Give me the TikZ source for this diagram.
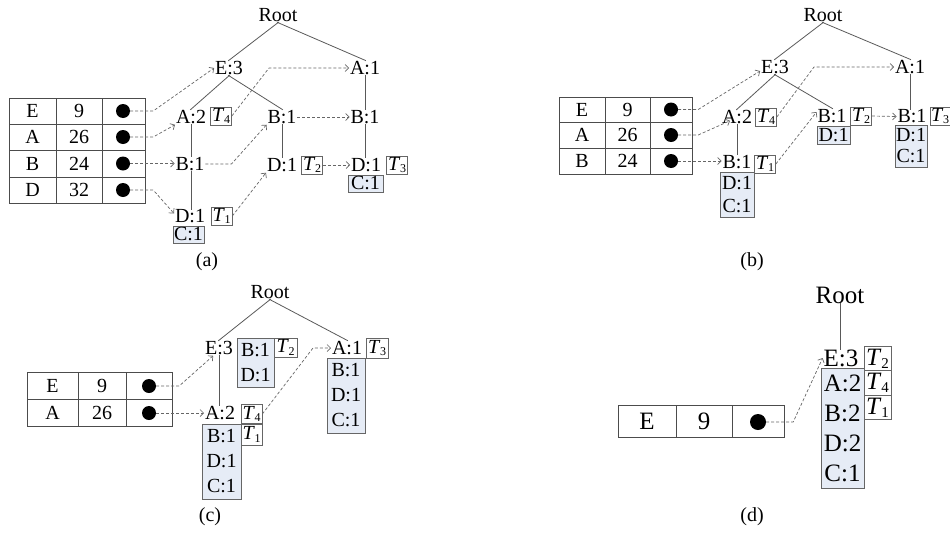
\documentclass[tikz,border=0pt]{standalone}
\usepackage{fontspec}
\setmainfont{Liberation Serif}
\usetikzlibrary{arrows.meta,calc}
\definecolor{boxfill}{HTML}{E6ECF6}
\newcommand{\Tsubs}[2]{\textit{T}\kern-0.3pt\raisebox{-0.12em}{\fontsize{#2}{#2}\selectfont #1}}
\begin{document}
\begin{tikzpicture}[x=1pt,y=-1pt,font=\fontsize{20}{24}\selectfont,
  lab/.style={inner sep=1pt, outer sep=0pt},
  labd/.style={inner sep=1pt, outer sep=0pt, font=\fontsize{25}{30}\selectfont},
  tb/.style={draw=black!60, line width=0.7pt, inner sep=0.5pt, minimum width=21pt, minimum height=18pt, fill=white},
  tbd/.style={tb, minimum width=27pt, minimum height=24.5pt, font=\fontsize{25}{30}\selectfont},
  fb/.style={draw=black!60, line width=0.7pt, fill=boxfill, inner sep=0pt, align=center},
  edge/.style={draw=black!65, line width=0.8pt, shorten <=-1pt, shorten >=-1pt},
  darr/.style={draw=black!60, line width=0.7pt, dash pattern=on 3pt off 2pt, -{Straight Barb[length=3.5pt,width=7pt]}},
  dot/.style={circle, fill=black, inner sep=0pt, minimum size=14pt},
  tline/.style={draw=black!70, line width=0.8pt}]
\useasboundingbox (0,0) rectangle (950,533);

% ================= (a) =================
\draw[tline] (9,98) rectangle (145,203);
\draw[tline] (56,98) -- (56,203) (102,98) -- (102,203)
  (9,124) -- (145,124) (9,150) -- (145,150) (9,177) -- (145,177);
\node[lab] (ak1) at (32.5,111) {E};
\node[lab] (ak2) at (32.5,137) {A};
\node[lab] (ak3) at (32.5,163.5) {B};
\node[lab] (ak4) at (32.5,190) {D};
\node[lab] (av1) at (79,111) {9};
\node[lab] (av2) at (79,137) {26};
\node[lab] (av3) at (79,163.5) {24};
\node[lab] (av4) at (79,190) {32};
\node[dot] (aE) at (123,111) {};
\node[dot] (aA) at (123,137) {};
\node[dot] (aB) at (123,163.5) {};
\node[dot] (aD) at (123,190) {};

\node[lab] (aRoot) at (278,15) {Root};
\node[lab] (aE3) at (229,68) {E:3};
\node[lab] (aA1) at (365,68) {A:1};
\node[lab] (aA2) at (191,117) {A:2};
\node[tb] (aT4) at (221,116) {\Tsubs{4}{12}};
\node[lab] (aB1m) at (282,117) {B:1};
\node[lab] (aB1r) at (365,117) {B:1};
\node[lab] (aB1l) at (190,164) {B:1};
\node[lab] (aD1m) at (282,165) {D:1};
\node[tb] (aT2) at (312,165) {\Tsubs{2}{12}};
\node[lab] (aD1r) at (366,165) {D:1};
\node[tb] (aT3) at (397,165) {\Tsubs{3}{12}};
\node[fb, minimum width=35pt, minimum height=17pt] (aC1r) at (365.5,183.5) {C:1};
\node[lab] (aD1l) at (190,216.5) {D:1};
\node[tb] (aT1) at (221.5,216) {\Tsubs{1}{12}};
\node[fb, minimum width=31pt, minimum height=17pt] (aC1l) at (188.5,234.5) {C:1};
\node[lab] (acap) at (207,262) {(a)};

\draw[edge] (aRoot.south) -- (aE3.north);
\draw[edge] (aRoot.south) -- (aA1.north);
\draw[edge] (aE3.south) -- (aA2.north);
\draw[edge] (aE3.south) -- (aB1m.north);
\draw[edge] (aA2.south) -- (aA2.south |- aB1l.north);
\draw[edge] (aA2.south |- aB1l.south) -- (aA2.south |- aD1l.north);
\draw[edge] (aB1m.south) -- (aD1m.north);
\draw[edge] (aA1.south) -- (aA1.south |- aB1r.north);
\draw[edge] (aB1r.south) -- (aB1r.south |- aD1r.north);

\draw[darr] (aE.east) -- ++(23,0) -- (aE3.west);
\draw[darr] (aA.east) -- ++(23,0) -- (aA2.south west);
\draw[darr] (aB.east) -- (aB.east -| aB1l.west);
\draw[darr] (aD.east) -- ++(23,0) -- ([yshift=3pt]aD1l.west);
\draw[darr] (aT4.east) -- ($(aA1.west)+(-80,0)$) -- (aA1.west);
\draw[darr] (aB1l.east) -- ++(26,0) -- (aB1m.south west);
\draw[darr] (aB1m.east) -- (aB1r.west);
\draw[darr] (aT1.east) -- (aD1m.south west);
\draw[darr] (aT2.east) -- (aD1r.west);

% ================= (b) =================
\draw[tline] (559,97) rectangle (692,174);
\draw[tline] (605,97) -- (605,174) (650,97) -- (650,174)
  (559,122) -- (692,122) (559,148) -- (692,148);
\node[lab] (bk1) at (582,109.5) {E};
\node[lab] (bk2) at (582,135) {A};
\node[lab] (bk3) at (582,161) {B};
\node[lab] (bv1) at (627.5,109.5) {9};
\node[lab] (bv2) at (627.5,135) {26};
\node[lab] (bv3) at (627.5,161) {24};
\node[dot] (bE) at (671,109.5) {};
\node[dot] (bA) at (671,135) {};
\node[dot] (bB) at (671,161) {};

\node[lab] (bRoot) at (823,15) {Root};
\node[lab] (bE3) at (775,67) {E:3};
\node[lab] (bA1) at (910,67) {A:1};
\node[lab] (bA2) at (737,117) {A:2};
\node[tb] (bT4) at (766,117) {\Tsubs{4}{12}};
\node[lab] (bB1l) at (737,162) {B:1};
\node[tb] (bT1) at (765,164) {\Tsubs{1}{12}};
\node[fb, minimum width=34pt, minimum height=45pt, font=\fontsize{20}{22.5}\selectfont] (bDCl) at (737,194.5) {D:1\\C:1};
\node[lab] (bB1m) at (832,116) {B:1};
\node[tb] (bT2) at (861,116) {\Tsubs{2}{12}};
\node[fb, minimum width=33pt, minimum height=18pt] (bDm) at (833.5,135.5) {D:1};
\node[lab] (bB1r) at (912,116.5) {B:1};
\node[tb, minimum width=20pt] (bT3) at (940,116) {\Tsubs{3}{12}};
\node[fb, minimum width=32pt, minimum height=42pt, font=\fontsize{20}{21}\selectfont] (bDCr) at (911,146) {D:1\\C:1};
\node[lab] (bcap) at (752,262) {(b)};

\draw[edge] (bRoot.south) -- (bE3.north);
\draw[edge] (bRoot.south) -- (bA1.north);
\draw[edge] (bE3.south) -- (bA2.north);
\draw[edge] (bE3.south) -- (bB1m.north);
\draw[edge] (bA2.south) -- (bA2.south |- bB1l.north);
\draw[edge] (bA1.south) -- (bA1.south |- bB1r.north);

\draw[darr] (bE.east) -- ++(20,0) -- ([yshift=-4pt]bE3.west);
\draw[darr] (bA.east) -- ++(20,0) -- ([xshift=9pt,yshift=4pt]bA2.south west);
\draw[darr] (bB.east) -- (bB.east -| bB1l.west);
\draw[darr] (bT4.east) -- ($(bA1.west)+(-80,0)$) -- (bA1.west);
\draw[darr] (bT1.east) -- ([yshift=4pt]bB1m.west);
\draw[darr] (bT2.east) -- (bB1r.west);

% ================= (c) =================
\draw[tline] (27,372) rectangle (172,426);
\draw[tline] (78,372) -- (78,426) (126,372) -- (126,426) (27,399) -- (172,399);
\node[lab] (ck1) at (52.5,385.5) {E};
\node[lab] (ck2) at (52.5,412.5) {A};
\node[lab] (cv1) at (102,385.5) {9};
\node[lab] (cv2) at (102,412.5) {26};
\node[dot] (cE) at (149,386) {};
\node[dot] (cA) at (149,413) {};

\node[lab] (cRoot) at (270,292) {Root};
\node[lab] (cE3) at (219,348) {E:3};
\node[fb, minimum width=37pt, minimum height=49pt, font=\fontsize{20}{24.5}\selectfont] (cBD) at (255.5,362.5) {B:1\\D:1};
\node[tb, minimum width=23pt, minimum height=19pt] (cT2) at (285.5,347.5) {\Tsubs{2}{12}};
\node[lab] (cA1) at (347,348) {A:1};
\node[tb, minimum width=22pt, minimum height=20pt] (cT3) at (377,348) {\Tsubs{3}{12}};
\node[fb, minimum width=38pt, minimum height=75pt, font=\fontsize{20}{25}\selectfont] (cA1b) at (346,395.5) {B:1\\D:1\\C:1};
\node[lab] (cA2) at (220,413) {A:2};
\node[tb, minimum height=19pt] (cT4) at (251.5,414) {\Tsubs{4}{12}};
\node[fb, minimum width=39pt, minimum height=75pt, font=\fontsize{20}{25}\selectfont] (cA2b) at (221.5,461.5) {B:1\\D:1\\C:1};
\node[tb, minimum height=21pt] (cT1) at (251.5,434.5) {\Tsubs{1}{12}};
\node[lab] (ccap) at (210,517) {(c)};

\draw[edge] (cRoot.south) -- (cE3.north);
\draw[edge] (cRoot.south) -- (cA1.north);
\draw[edge] (cE3.south) -- (cE3.south |- cA2.north);

\draw[darr] (cE.east) -- ++(23,0) -- ([xshift=9pt]cE3.south west);
\draw[darr] (cA.east) -- (cA.east -| cA2.west);
\draw[darr] (cT4.east) -- ($(cA1.west)+(-18,0)$) -- (cA1.west);

% ================= (d) =================
\draw[tline] (618,405) rectangle (784,437);
\draw[tline] (676,405) -- (676,437) (732,405) -- (732,437);
\node[labd] (dk1) at (647,421) {E};
\node[labd] (dv1) at (704,421) {9};
\node[dot, minimum size=16pt] (dE) at (758,422) {};

\node[labd] (dRoot) at (840,295) {Root};
\node[labd] (dE3) at (841,358) {E:3};
\node[fb, minimum width=43pt, minimum height=120pt, font=\fontsize{25}{30}\selectfont] (dbox) at (842.5,428) {A:2\\B:2\\D:2\\C:1};
\node[tbd] (dT2) at (877.5,358.5) {\Tsubs{2}{15}};
\node[tbd] (dT4) at (877.5,383) {\Tsubs{4}{15}};
\node[tbd] (dT1) at (877.5,407.5) {\Tsubs{1}{15}};
\node[lab] (dcap) at (752,517) {(d)};

\draw[edge] (dRoot.south) -- (dRoot.south |- dE3.north);
\draw[darr] (dE.east) -- ++(27,0) -- (dE3.west);
\end{tikzpicture}
\end{document}
